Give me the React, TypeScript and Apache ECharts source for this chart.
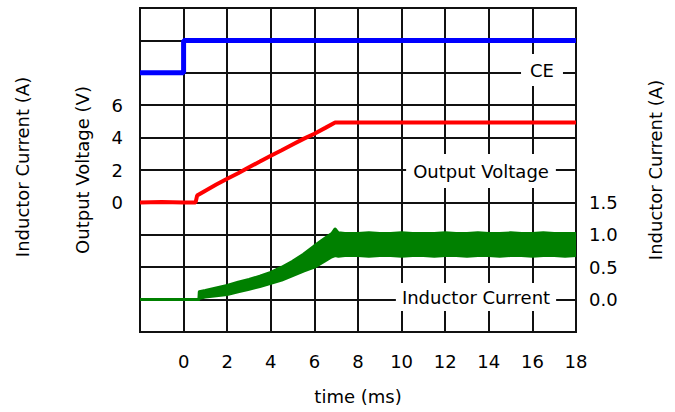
import React, { useEffect, useRef } from "react";
import * as echarts from "echarts";

// CE signal (logic level)
const ceTime = [-2, 0, 0, 18];
const ceLevel = [0, 0, 1, 1];

// Output voltage (V)
const voltTime = [-2, -1, 0, 0.55, 0.62, 1, 1.5, 2, 2.5, 3, 3.5, 4, 4.5, 5, 5.5, 6, 6.5, 6.95, 10, 14, 18];
const voltValue = [0, 0.03, 0, 0, 0.42, 0.72, 1.1, 1.46, 1.8, 2.17, 2.52, 2.88, 3.22, 3.57, 3.92, 4.24, 4.6, 4.93, 4.93, 4.93, 4.93];

// Inductor current (A): ripple envelope
const curTime = [-2, 0.7, 0.72, 1, 1.5, 2, 2.5, 3, 3.5, 4, 4.5, 5, 5.5, 6, 6.5, 6.8, 6.95, 7.1, 7.4, 8, 8.5, 9, 9.5, 10, 10.5, 11, 11.5, 12, 12.5, 13, 13.5, 14, 14.5, 15, 15.5, 16, 16.5, 17, 17.5, 18];
const curUpper = [0, 0, 0.12, 0.14, 0.18, 0.22, 0.27, 0.31, 0.36, 0.42, 0.5, 0.59, 0.7, 0.83, 0.95, 1.02, 1.09, 1.03, 1.02, 1.02, 1.03, 1.02, 1.02, 1.03, 1.02, 1.02, 1.02, 1.03, 1.02, 1.02, 1.03, 1.02, 1.02, 1.03, 1.02, 1.02, 1.03, 1.02, 1.02, 1.02];
const curLower = [0, 0, 0.02, 0.04, 0.06, 0.08, 0.12, 0.16, 0.2, 0.25, 0.3, 0.37, 0.44, 0.5, 0.6, 0.66, 0.68, 0.67, 0.68, 0.68, 0.67, 0.68, 0.68, 0.67, 0.68, 0.68, 0.67, 0.68, 0.68, 0.67, 0.68, 0.68, 0.67, 0.68, 0.68, 0.67, 0.68, 0.68, 0.67, 0.68];

// tick labels
const xTicksShown = [0, 2, 4, 6, 8, 10, 12, 14, 16, 18];
const voltTicksShown = [0, 2, 4, 6];
const curTicksShown = [0, 0.5, 1.0, 1.5];

const FONT = "DejaVu Sans";
const FS = 18;

export default function App() {
  const ref = useRef<HTMLDivElement>(null);
  useEffect(() => {
    if (!ref.current) return;
    const chart = echarts.init(ref.current, null, { renderer: "svg" });
    const zip = (a: number[], b: number[]) => a.map((v, i) => [v, b[i]]);
    const gridColor = "#111";
    const textStyle = { color: "#000", fontFamily: FONT, fontSize: FS };
    const font = `${FS}px "${FONT}"`;
    chart.setOption({
      animation: false,
      backgroundColor: "#fff",
      textStyle: { fontFamily: FONT },
      grid: { left: 140, right: 99, top: 8, bottom: 80, show: true, borderColor: gridColor, borderWidth: 2 },
      xAxis: {
        type: "value",
        min: -2,
        max: 18,
        interval: 2,
        name: "time (ms)",
        nameLocation: "middle",
        nameGap: 55,
        nameTextStyle: textStyle,
        axisLine: { show: false },
        axisTick: { show: false },
        axisLabel: {
          ...textStyle,
          margin: 20,
          formatter: (v: number) => (xTicksShown.includes(v) ? String(v) : ""),
        },
        splitLine: { show: true, lineStyle: { color: gridColor, width: 2 } },
      },
      yAxis: [
        {
          type: "value",
          position: "left",
          min: -8,
          max: 12,
          interval: 2,
          name: "Output Voltage (V)",
          nameLocation: "middle",
          nameGap: 49,
          nameTextStyle: textStyle,
          axisLine: { show: false },
          axisTick: { show: false },
          axisLabel: {
            ...textStyle,
            margin: 17,
            formatter: (v: number) => (voltTicksShown.includes(v) ? String(v) : ""),
          },
          splitLine: { show: true, lineStyle: { color: gridColor, width: 2 } },
        },
        {
          type: "value",
          position: "right",
          min: -0.5,
          max: 4.5,
          interval: 0.5,
          name: "Inductor Current (A)",
          nameLocation: "middle",
          nameGap: 70,
          nameTextStyle: textStyle,
          axisLine: { show: false },
          axisTick: { show: false },
          axisLabel: {
            ...textStyle,
            margin: 13,
            formatter: (v: number) => (curTicksShown.includes(v) ? v.toFixed(1) : ""),
          },
          splitLine: { show: false },
        },
        {
          type: "value",
          position: "left",
          min: -8,
          max: 2,
          interval: 1,
          show: false,
          splitLine: { show: false },
        },
      ],
      graphic: [
        {
          type: "text",
          x: 22,
          y: 167,
          rotation: Math.PI / 2,
          style: { text: "Inductor Current (A)", font, fill: "#000", align: "center", verticalAlign: "middle" },
        },
        {
          type: "text",
          x: 542,
          y: 70,
          z: 50,
          style: { text: "CE", font, fill: "#000", align: "center", verticalAlign: "middle", backgroundColor: "#fff", padding: [7, 9] },
        },
        {
          type: "text",
          x: 481,
          y: 171,
          z: 50,
          style: { text: "Output Voltage", font, fill: "#000", align: "center", verticalAlign: "middle", backgroundColor: "#fff", padding: [8, 7] },
        },
        {
          type: "text",
          x: 476,
          y: 297,
          z: 50,
          style: { text: "Inductor Current", font, fill: "#000", align: "center", verticalAlign: "middle", backgroundColor: "#fff", padding: [5, 6] },
        },
      ],
      series: [
        {
          type: "line",
          name: "CE",
          yAxisIndex: 2,
          data: zip(ceTime, ceLevel),
          symbol: "none",
          lineStyle: { color: "#0000ff", width: 5 },
          z: 10,
        },
        {
          type: "line",
          name: "Output Voltage",
          yAxisIndex: 0,
          data: zip(voltTime, voltValue),
          symbol: "none",
          lineStyle: { color: "#ff0000", width: 4 },
          z: 10,
        },
        {
          type: "custom",
          name: "Inductor Current",
          yAxisIndex: 1,
          data: [[0, 0]],
          clip: true,
          z: 10,
          renderItem: (_params: any, api: any) => {
            const top = curTime.map((t, i) => api.coord([t, curUpper[i]]));
            const bottom = curTime.map((t, i) => api.coord([t, curLower[i]])).reverse();
            return {
              type: "polygon",
              shape: { points: top.concat(bottom) },
              style: { fill: "#008000", stroke: "#008000", lineWidth: 3, lineJoin: "round" },
            };
          },
        },
      ],
    });
    return () => chart.dispose();
  }, []);
  return <div ref={ref} style={{ position: "fixed", left: 0, top: 0, width: 675, height: 412 }} />;
}
